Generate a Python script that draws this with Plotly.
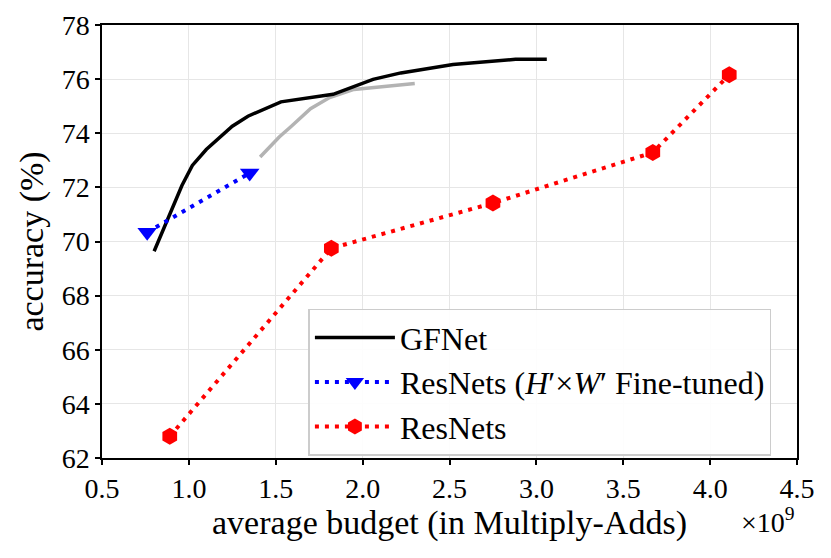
import plotly.graph_objects as go

# GFNet curve (budget in 1e9 Multiply-Adds, accuracy in %)
gfnet_budget = [0.80, 0.96, 1.02, 1.10, 1.25, 1.34, 1.53, 1.68, 1.83, 2.06, 2.22, 2.52, 2.88, 3.06]
gfnet_acc = [69.64, 72.07, 72.81, 73.40, 74.26, 74.63, 75.16, 75.31, 75.44, 75.99, 76.23, 76.54, 76.73, 76.73]

# grey curve (no legend entry)
grey_budget = [1.41, 1.52, 1.59, 1.70, 1.81, 1.95, 2.30]
grey_acc = [73.12, 73.86, 74.26, 74.91, 75.32, 75.62, 75.84]

# ResNets (H' x W' fine-tuned)
ft_budget = [0.76, 1.35]
ft_acc = [70.34, 72.53]

# ResNets
res_budget = [0.89, 1.82, 2.75, 3.67, 4.11]
res_acc = [62.80, 69.75, 71.42, 73.29, 76.16]

font_name = "Liberation Serif"
scale = 1e9

fig = go.Figure()

fig.add_trace(go.Scatter(x=[b * scale for b in grey_budget], y=grey_acc,
                         mode='lines', line=dict(color='#b3b3b3', width=3.5),
                         showlegend=False, hoverinfo='skip'))

fig.add_trace(go.Scatter(x=[b * scale for b in gfnet_budget], y=gfnet_acc,
                         mode='lines', line=dict(color='black', width=3.5),
                         name='GFNet'))

fig.add_trace(go.Scatter(x=[b * scale for b in ft_budget], y=ft_acc,
                         mode='lines+markers',
                         line=dict(color='blue', width=4, dash='4px,6px'),
                         marker=dict(symbol='triangle-down', size=17, color='blue'),
                         name="ResNets (<i>H</i>′×<i>W</i>′ Fine-tuned)"))

fig.add_trace(go.Scatter(x=[b * scale for b in res_budget], y=res_acc,
                         mode='lines+markers',
                         line=dict(color='red', width=4, dash='4px,6px'),
                         marker=dict(symbol='hexagon', size=17, color='red'),
                         name='ResNets'))

axis_common = dict(showline=True, linecolor='black', linewidth=1.5, mirror=True,
                   ticks='outside', ticklen=5, tickwidth=1.5, tickcolor='black',
                   showgrid=True, gridcolor='#e6e6e6', gridwidth=1.2,
                   zeroline=False, automargin=False,
                   tickfont=dict(family=font_name, size=28, color='black'))

fig.update_xaxes(range=[0.5 * scale, 4.5 * scale],
                 tickvals=[v * scale for v in [0.5, 1.0, 1.5, 2.0, 2.5, 3.0, 3.5, 4.0, 4.5]],
                 ticktext=['0.5', '1.0', '1.5', '2.0', '2.5', '3.0', '3.5', '4.0', '4.5'],
                 title=dict(text='average budget (in Multiply-Adds)', standoff=4,
                            font=dict(family=font_name, size=34, color='black')),
                 **axis_common)

fig.update_yaxes(range=[62, 78], dtick=2,
                 title=dict(text='accuracy (%)', standoff=8,
                            font=dict(family=font_name, size=34, color='black')),
                 **axis_common)

# exponent label under the right end of the x axis
fig.add_annotation(x=1.0, y=-0.1, xref='paper', yref='paper',
                   xanchor='right', yanchor='top', showarrow=False,
                   text='×10<sup>9</sup>',
                   font=dict(family=font_name, size=28, color='black'))

# page body adds 8px offset, so margins are shifted to compensate
fig.update_layout(width=831, height=558,
                  margin=dict(l=93.5, r=41.5, t=17, b=108),
                  plot_bgcolor='white', paper_bgcolor='white',
                  font=dict(family=font_name, color='black'),
                  legend=dict(x=0.297, y=0.345, xanchor='left', yanchor='top',
                              bgcolor='rgba(255,255,255,0.9)', bordercolor='#cccccc',
                              borderwidth=1.5, itemwidth=80,
                              font=dict(family=font_name, size=32, color='black')))

fig.write_html("out.html")
